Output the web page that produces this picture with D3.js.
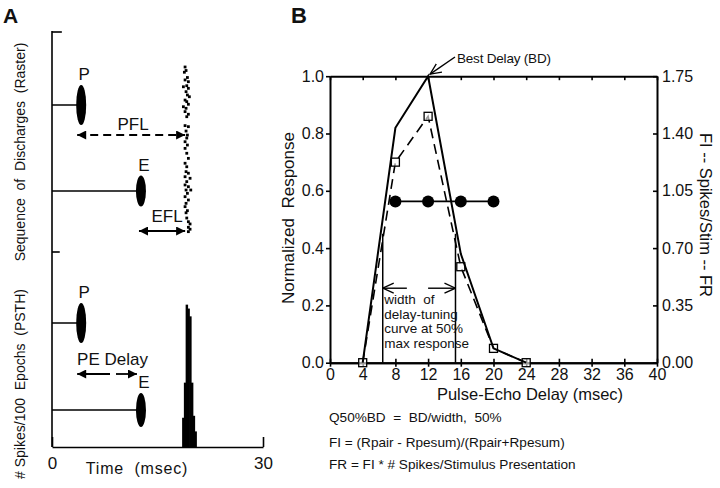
<!DOCTYPE html>
<html><head><meta charset="utf-8">
<script src="https://cdn.jsdelivr.net/npm/d3@7"></script>
<style>
body{margin:0;background:#fff}
svg{display:block}
text{font-family:"Liberation Sans",Arial,Helvetica,sans-serif;fill:#111}
</style></head>
<body><svg id="c" width="720" height="488"></svg>
<script>
// ---------- DATA ----------
// Panel A
const stimNames = ["P", "E"];
const stimTimes = [4.15, 12.65];          // msec
const rasterDots = [ // [trial, time msec]
  [4,18.92],[6,19.06],[7,18.82],[10,19.25],[11.4,18.92],[12.4,19.39],[14.7,19.16],[15.3,18.68],
  [16.2,19.39],[18.1,19.06],[20,19.25],[21,19.53],[22.9,18.92],[23.8,19.16],[25.3,19.39],[26.7,18.68],
  [27.6,19.06],[29.5,18.92],[31,19.39],[32.4,19.16],
  [37.5,18.92],[38.1,19.39],[40.6,19.06],[42.9,19.25],[44.6,19.16],[46.7,18.92],[48.6,19.25],[50.5,18.92],
  [53.3,19.16],[56.2,19.39],[59,18.92],[61,19.16],[63.8,19.06],[64.7,19.39],[66.7,18.92],[67.6,19.63],
  [69.5,19.16],[71.4,18.92],[72.4,19.39],[74.3,19.06],[74.3,19.73],[76.2,19.25],[78.1,18.92],[80,19.39],
  [81.9,19.06],[83.8,18.92],[86.1,19.25],[87.3,19.06],[90.3,19.16],[92.4,19.39],[93.7,19.63],[95.6,19.39],
  [96.7,19.63],[98.1,19.39]
];
const psthBinStart = [18.5, 18.75, 19.0, 19.25, 19.5, 19.75, 20.0, 20.25];
const psthCounts   = [15, 33, 73, 71, 67, 33, 16, 8];
const timeTicks = [0, 30];

// Panel B
const delays = [4, 8, 12, 16, 20, 24];
const normResponse = [0, 0.82, 1.0, 0.38, 0.05, 0];
const facilitation = [0, 0.70, 0.86, 0.335, 0.05, 0];
const frDelays = [8, 12, 16, 20];
const frValues = [0.985, 0.985, 0.985, 0.985];   // right axis units
const halfMaxDelays = [6.45, 15.35];
const halfMaxLevel = 0.45;
const delayTicks = [0, 4, 8, 12, 16, 20, 24, 28, 32, 36, 40];
const normTicks = [0, 0.2, 0.4, 0.6, 0.8, 1.0];
const fiTicks = [0, 0.35, 0.70, 1.05, 1.40, 1.75];
const bestDelay = 12;
const widthNote = ["width  of", "delay-tuning", "curve at 50%", "max response"];
const formulas = ["Q50%BD  =  BD/width,  50%", "FI = (Rpair - Rpesum)/(Rpair+Rpesum)", "FR = FI * # Spikes/Stimulus Presentation"];

// ---------- DRAW ----------
const svg = d3.select("#c");
const defs = svg.append("defs");
defs.append("marker").attr("id","fa").attr("viewBox","0 0 10 10").attr("refX",10).attr("refY",5)
  .attr("markerWidth",13).attr("markerHeight",9).attr("markerUnits","userSpaceOnUse")
  .attr("orient","auto-start-reverse")
  .append("path").attr("d","M0,0L10,5L0,10Z").attr("fill","#000");
defs.append("marker").attr("id","oa").attr("viewBox","0 0 12 12").attr("refX",11).attr("refY",6)
  .attr("markerWidth",12).attr("markerHeight",12).attr("markerUnits","userSpaceOnUse")
  .attr("orient","auto-start-reverse")
  .append("path").attr("d","M0,1L11,6L0,11").attr("fill","none").attr("stroke","#000").attr("stroke-width",1.3);

// ===== Panel A =====
const xA = d3.scaleLinear().domain([0,30]).range([52,263]);
const yRaster = d3.scaleLinear().domain([0,100]).range([60,235]);
const yPsth = d3.scaleLinear().domain([0,100]).range([447,252]);
const A = svg.append("g");

A.append("text").attr("x",3).attr("y",23).attr("font-size",21).attr("font-weight","bold").text("A");

// vertical axis
A.append("line").attr("x1",xA(0)).attr("x2",xA(0)).attr("y1",31).attr("y2",447).attr("stroke","#000").attr("stroke-width",1.6);
A.append("line").attr("x1",xA(0)).attr("x2",xA(1.4)).attr("y1",32).attr("y2",32).attr("stroke","#000").attr("stroke-width",1.6);
A.append("line").attr("x1",xA(0)).attr("x2",xA(1.1)).attr("y1",252).attr("y2",252).attr("stroke","#000").attr("stroke-width",1.6);

// bottom time axis
const axA = A.append("g").attr("transform","translate(0,447)")
  .call(d3.axisBottom(xA).tickValues(timeTicks).tickSizeInner(-10).tickSizeOuter(0).tickPadding(10));
axA.attr("font-size",null).attr("font-family",null);
axA.selectAll("path").attr("stroke-width",1.6);
axA.selectAll("line").attr("stroke-width",1.6);
axA.selectAll("text").attr("font-size",17).attr("fill","#111");

A.append("text").attr("x",137).attr("y",474).attr("text-anchor","middle").attr("font-size",16)
  .attr("letter-spacing",0.8).style("white-space","pre").text("Time  (msec)");

// Y titles
A.append("text").attr("transform","translate(20,152) rotate(-90)").attr("text-anchor","middle")
  .attr("dy","0.35em").attr("font-size",14).style("white-space","pre").text("Sequence  of  Discharges  (Raster)");
A.append("text").attr("transform","translate(20,384) rotate(-90)").attr("text-anchor","middle")
  .attr("dy","0.35em").attr("font-size",14).style("white-space","pre").text("# Spikes/100  Epochs  (PSTH)");

// stimuli in both sub-panels
const stimRows = [
  {yc:[105,191], ry:[20,15.5]},
  {yc:[323,410], ry:[20,17]}
];
stimRows.forEach(row => {
  stimNames.forEach((nm,i) => {
    const cx = xA(stimTimes[i]);
    A.append("line").attr("x1",xA(0)).attr("x2",cx-4).attr("y1",row.yc[i]).attr("y2",row.yc[i])
      .attr("stroke","#000").attr("stroke-width",1.5);
    A.append("ellipse").attr("cx",cx).attr("cy",row.yc[i]).attr("rx",5).attr("ry",row.ry[i]).attr("fill","#000");
    A.append("text").attr("x",cx+3).attr("y",row.yc[i]-row.ry[i]-5).attr("text-anchor","middle")
      .attr("font-size",17).text(nm);
  });
});

// raster dots
A.selectAll("rect.dot").data(rasterDots).join("rect").attr("class","dot")
  .attr("x",d=>xA(d[1])-1.4).attr("y",d=>yRaster(d[0])-1.4).attr("width",2.8).attr("height",2.8).attr("fill","#000");

// PFL arrow (dashed)
const firstSpike = 19.0;
A.append("line").attr("x1",xA(stimTimes[0])-4).attr("x2",xA(firstSpike)-0.5).attr("y1",135).attr("y2",135)
  .attr("stroke","#000").attr("stroke-width",1.8).attr("stroke-dasharray","8,5")
  .attr("marker-start","url(#fa)").attr("marker-end","url(#fa)");
A.append("text").attr("x",133).attr("y",130).attr("text-anchor","middle").attr("font-size",17).text("PFL");
// EFL arrow
A.append("line").attr("x1",xA(stimTimes[1])-2).attr("x2",xA(firstSpike)-0.5).attr("y1",231).attr("y2",231)
  .attr("stroke","#000").attr("stroke-width",1.8)
  .attr("marker-start","url(#fa)").attr("marker-end","url(#fa)");
A.append("text").attr("x",167).attr("y",222).attr("text-anchor","middle").attr("font-size",17).text("EFL");

// PSTH bars
const binW = 0.25;
A.selectAll("rect.bar").data(psthBinStart).join("rect").attr("class","bar")
  .attr("x",d=>xA(d)).attr("width",(d)=>xA(d+binW)-xA(d)+0.7)
  .attr("y",(d,i)=>yPsth(psthCounts[i])).attr("height",(d,i)=>yPsth(0)-yPsth(psthCounts[i]))
  .attr("fill","#000");

// PE Delay arrows
A.append("text").attr("x",112.5).attr("y",365).attr("text-anchor","middle").attr("font-size",17).text("PE Delay");
A.append("line").attr("x1",110).attr("x2",xA(stimTimes[0])-4).attr("y1",374).attr("y2",374)
  .attr("stroke","#000").attr("stroke-width",1.8).attr("marker-end","url(#fa)");
A.append("line").attr("x1",116).attr("x2",xA(stimTimes[1])-4).attr("y1",374).attr("y2",374)
  .attr("stroke","#000").attr("stroke-width",1.8).attr("marker-end","url(#fa)");

// ===== Panel B =====
const xB = d3.scaleLinear().domain([0,40]).range([330,657]);
const yL = d3.scaleLinear().domain([0,1]).range([362.7,76.2]);
const yR = d3.scaleLinear().domain([0,1.75]).range([362.7,76.2]);
const B = svg.append("g");
B.append("text").attr("x",291).attr("y",23).attr("font-size",22).attr("font-weight","bold").text("B");

function styleAxis(g, fs){
  g.attr("font-size",null).attr("font-family",null);
  g.selectAll("path").attr("stroke-width",2);
  g.selectAll("line").attr("stroke-width",1.6);
  g.selectAll("text").attr("font-size",fs).attr("fill","#111");
}
// left
styleAxis(B.append("g").attr("transform",`translate(${xB(0)},0)`)
  .call(d3.axisLeft(yL).tickValues(normTicks).tickFormat(d3.format(".1f")).tickSizeInner(4).tickSizeOuter(0).tickPadding(2)), 16);
// right
styleAxis(B.append("g").attr("transform",`translate(${xB(40)},0)`)
  .call(d3.axisRight(yR).tickValues(fiTicks).tickFormat(d3.format(".2f")).tickSizeInner(-4).tickSizeOuter(0).tickPadding(5)), 16);
// bottom
styleAxis(B.append("g").attr("transform",`translate(0,${yL(0)})`)
  .call(d3.axisBottom(xB).tickValues(delayTicks).tickSizeInner(4).tickSizeOuter(0).tickPadding(2)), 16);
styleAxis(B.append("g").attr("transform",`translate(0,${yL(0)})`)
  .call(d3.axisBottom(xB).tickValues(delayTicks).tickSizeInner(-4).tickSizeOuter(0).tickFormat("")), 16);
// top
styleAxis(B.append("g").attr("transform",`translate(0,${yL(1)})`)
  .call(d3.axisTop(xB).tickValues(delayTicks).tickSizeInner(-4).tickSizeOuter(0).tickFormat("")), 16);

// axis titles
B.append("text").attr("transform","translate(288,218) rotate(-90)").attr("text-anchor","middle")
  .attr("dy","0.35em").attr("font-size",17).style("white-space","pre").text("Normalized  Response");
B.append("text").attr("transform","translate(706,215) rotate(90)").attr("text-anchor","middle")
  .attr("dy","0.35em").attr("font-size",16.5).text("FI -- Spikes/Stim -- FR");
B.append("text").attr("x",530).attr("y",400).attr("text-anchor","middle").attr("font-size",16.5).text("Pulse-Echo Delay (msec)");

// half-max verticals
B.selectAll("line.hm").data(halfMaxDelays).join("line").attr("class","hm")
  .attr("x1",d=>xB(d)).attr("x2",d=>xB(d)).attr("y1",yL(0)).attr("y2",yL(halfMaxLevel))
  .attr("stroke","#000").attr("stroke-width",1.5);
// width arrows
B.append("line").attr("x1",xB(9.4)).attr("x2",xB(halfMaxDelays[0])).attr("y1",yL(0.26)).attr("y2",yL(0.26))
  .attr("stroke","#000").attr("stroke-width",1.4).attr("marker-end","url(#oa)");
B.append("line").attr("x1",xB(12.0)).attr("x2",xB(halfMaxDelays[1])).attr("y1",yL(0.26)).attr("y2",yL(0.26))
  .attr("stroke","#000").attr("stroke-width",1.4).attr("marker-end","url(#oa)");
const wn = B.append("text").attr("font-family","'Liberation Sans Narrow','Liberation Sans',Arial,sans-serif")
  .attr("font-size",13.5).style("white-space","pre");
widthNote.forEach((t,i)=> wn.append("tspan").attr("x",xB(halfMaxDelays[0])+1.5).attr("y",304+i*14.7).text(t));

// FR line with circles
const line = d3.line();
B.append("path").attr("d",line(frDelays.map((d,i)=>[xB(d),yR(frValues[i])])))
  .attr("fill","none").attr("stroke","#000").attr("stroke-width",1.8);
B.selectAll("circle.fr").data(frDelays).join("circle").attr("class","fr")
  .attr("cx",d=>xB(d)).attr("cy",(d,i)=>yR(frValues[i])).attr("r",6).attr("fill","#000");

// dashed facilitation curve
B.append("path").attr("d",line(delays.map((d,i)=>[xB(d),yL(facilitation[i])])))
  .attr("fill","none").attr("stroke","#000").attr("stroke-width",1.6).attr("stroke-dasharray","10,6");
B.selectAll("rect.sq").data(delays).join("rect").attr("class","sq")
  .attr("x",d=>xB(d)-4).attr("y",(d,i)=>yL(facilitation[i])-4).attr("width",8).attr("height",8)
  .attr("fill","#fff").attr("fill-opacity",0.6).attr("stroke","#000").attr("stroke-width",1.3);

// solid response curve
B.append("path").attr("d",line(delays.map((d,i)=>[xB(d),yL(normResponse[i])])))
  .attr("fill","none").attr("stroke","#000").attr("stroke-width",2);

// Best Delay annotation
B.append("line").attr("x1",455).attr("y1",57).attr("x2",xB(bestDelay)+2).attr("y2",yL(1)-2)
  .attr("stroke","#000").attr("stroke-width",1.4).attr("marker-end","url(#oa)");
B.append("text").attr("x",457).attr("y",63).attr("font-size",13.5).attr("letter-spacing",-0.2).text("Best Delay (BD)");

// formulas
formulas.forEach((t,i)=> B.append("text").attr("x",329).attr("y",[422,447,469][i]).attr("font-size",13.6)
  .style("white-space","pre").text(t));
</script></body></html>
